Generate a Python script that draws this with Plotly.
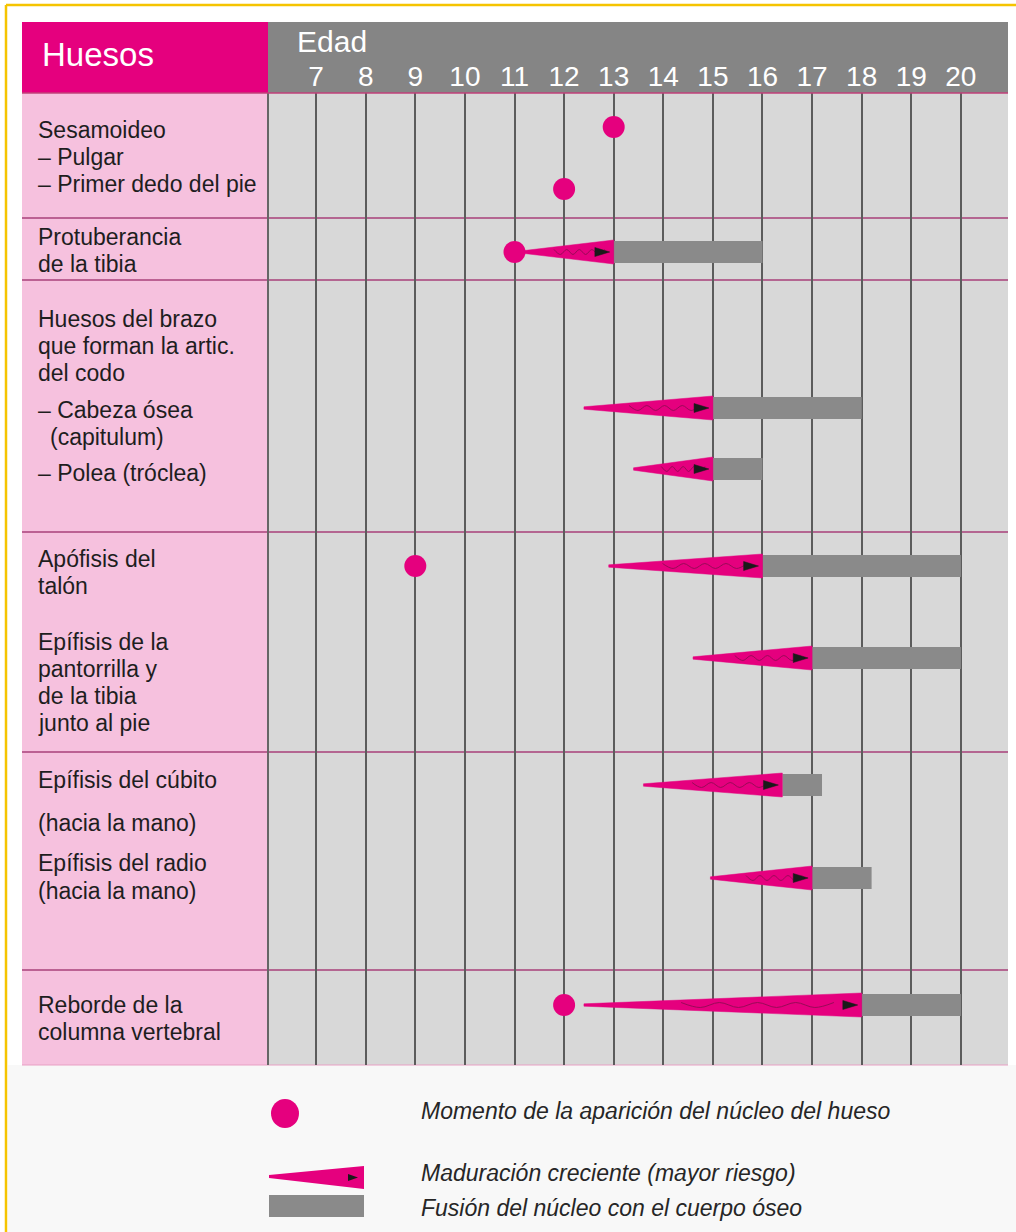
import plotly.graph_objects as go

# ---------------- data ----------------
ages = list(range(7, 21))
age_ticklabels = [str(a) for a in ages]

marks = ["Sesamoideo – Pulgar", "Sesamoideo – Primer dedo del pie",
         "Protuberancia de la tibia", "Cabeza ósea (capitulum)", "Polea (tróclea)",
         "Apófisis del talón", "Epífisis de la pantorrilla y de la tibia",
         "Epífisis del cúbito", "Epífisis del radio", "Reborde de la columna vertebral"]
appearance_age = [13, 12, 11, None, None, 9, None, None, None, 12]
maturation_start = [None, None, 11.15, 12.4, 13.4, 12.9, 14.6, 13.6, 14.95, 12.4]
fusion_start = [None, None, 13, 15, 15, 16, 17, 16.4, 17, 18]
fusion_end = [None, None, 16, 18, 16, 20, 20, 17.2, 18.2, 20]

label_lines = [
    "Sesamoideo", "– Pulgar", "– Primer dedo del pie",
    "Protuberancia", "de la tibia",
    "Huesos del brazo", "que forman la artic.", "del codo", "– Cabeza ósea", "(capitulum)", "– Polea (tróclea)",
    "Apófisis del", "talón", "Epífisis de la", "pantorrilla y", "de la tibia", "junto al pie",
    "Epífisis del cúbito", "(hacia la mano)", "Epífisis del radio", "(hacia la mano)",
    "Reborde de la", "columna vertebral",
]
legend_texts = ["Momento de la aparición del núcleo del hueso",
                "Maduración creciente (mayor riesgo)",
                "Fusión del núcleo con el cuerpo óseo"]

# ---------------- layout (pixel positions) ----------------
W, H = 1016, 1232
GX0, GX1, GY0, GY1 = 268, 1008, 93, 1065
mark_y = [127, 189, 252, 408, 469, 566, 658, 785, 878, 1005]
LX, LXI = 36, 48
label_pos = [(LX, 130), (LX, 157), (LX, 184),
             (LX, 237), (LX, 264),
             (LX, 319), (LX, 346), (LX, 373), (LX, 410), (LXI, 437), (LX, 473),
             (LX, 559), (LX, 586), (LX, 642), (LX, 669), (LX, 696), (LX, 723),
             (LX, 780), (LX, 823), (LX, 863), (LX, 891),
             (LX, 1005), (LX, 1032)]
row_sep = [218, 280, 532, 752, 970]

MAG = "#e5007e"
GRAY_BAR = "#8a8a8a"
PINK = "#f6c1de"
HEAD_GRAY = "#858585"
GRID_BG = "#d8d8d8"
SEP = "#a8407a"


def px(x):
    return (x - GX0) / (GX1 - GX0)


def py(y):
    return (GY1 - y) / (GY1 - GY0)


fig = go.Figure()

# fusion bars (gray)
bx, bb, by = [], [], []
for fs, fe, y in zip(fusion_start, fusion_end, mark_y):
    if fs is not None:
        bx.append(fe - fs)
        bb.append(fs)
        by.append(y)
fig.add_trace(go.Bar(x=bx, base=bb, y=by, orientation="h", width=22,
                     marker=dict(color=GRAY_BAR, line=dict(width=0)),
                     showlegend=False, hoverinfo="skip"))

# maturation wedges
for ms, fs, y in zip(maturation_start, fusion_start, mark_y):
    if ms is None:
        continue
    fig.add_trace(go.Scatter(x=[ms, fs, fs, ms, ms], y=[y - 1.2, y - 12, y + 12, y + 1.2, y - 1.2],
                             mode="lines", fill="toself", fillcolor=MAG,
                             line=dict(color=MAG, width=0.5), showlegend=False, hoverinfo="skip"))
    # decorative squiggle inside the wedge
    n = 9
    L = fs - ms
    sx = [ms + L * (0.35 + 0.55 * i / (n - 1)) for i in range(n)]
    sy = [y + (2.5 if i % 2 else -2.5) for i in range(n)]
    fig.add_trace(go.Scatter(x=sx, y=sy, mode="lines", line=dict(color="#7a1048", width=1, shape="spline"),
                             opacity=0.7, showlegend=False, hoverinfo="skip"))
    # small black arrowhead inside the wedge
    fig.add_trace(go.Scatter(x=[fs - 0.38, fs - 0.08, fs - 0.38, fs - 0.38],
                             y=[y - 4.5, y, y + 4.5, y - 4.5],
                             mode="lines", fill="toself", fillcolor="#1a1a1a",
                             line=dict(color="#1a1a1a", width=0.5), showlegend=False, hoverinfo="skip"))

# appearance dots
dx = [a for a in appearance_age if a is not None]
dy = [y for a, y in zip(appearance_age, mark_y) if a is not None]
fig.add_trace(go.Scatter(x=dx, y=dy, mode="markers",
                         marker=dict(size=22, color=MAG, line=dict(width=0)),
                         showlegend=False, hoverinfo="skip", cliponaxis=False))

shapes = []
# lower light area
shapes.append(dict(type="rect", xref="paper", yref="paper", x0=px(8), x1=px(W), y0=py(GY1), y1=py(H),
                   fillcolor="#f8f8f8", line=dict(width=0), layer="below"))
# yellow frame
shapes.append(dict(type="line", xref="paper", yref="paper", x0=px(6), x1=px(W), y0=py(5), y1=py(5),
                   line=dict(color="#f5c400", width=2.5), layer="below"))
shapes.append(dict(type="line", xref="paper", yref="paper", x0=px(6), x1=px(6), y0=py(5), y1=py(H),
                   line=dict(color="#f5c400", width=2.5), layer="below"))
# pink label column
shapes.append(dict(type="rect", xref="paper", yref="paper", x0=px(22), x1=px(GX0), y0=py(GY0), y1=py(GY1),
                   fillcolor=PINK, line=dict(width=0), layer="below"))
# header
shapes.append(dict(type="rect", xref="paper", yref="paper", x0=px(22), x1=px(GX0), y0=py(22), y1=py(GY0),
                   fillcolor=MAG, line=dict(width=0), layer="below"))
shapes.append(dict(type="rect", xref="paper", yref="paper", x0=px(GX0), x1=px(GX1), y0=py(22), y1=py(GY0),
                   fillcolor=HEAD_GRAY, line=dict(width=0), layer="below"))
# row separators
for ry in row_sep:
    shapes.append(dict(type="line", xref="paper", yref="paper", x0=px(22), x1=px(GX1), y0=py(ry), y1=py(ry),
                       line=dict(color=SEP, width=1.6), layer="below"))
shapes.append(dict(type="line", xref="paper", yref="paper", x0=px(22), x1=px(GX1), y0=py(GY0), y1=py(GY0),
                   line=dict(color="#c0407a", width=1.5), layer="above"))
shapes.append(dict(type="line", xref="paper", yref="paper", x0=px(22), x1=px(GX1), y0=py(GY1), y1=py(GY1),
                   line=dict(color="#e8a0c4", width=1.2), layer="below"))
# left border of grid
shapes.append(dict(type="line", xref="paper", yref="paper", x0=px(GX0), x1=px(GX0), y0=py(GY0), y1=py(GY1),
                   line=dict(color="#666666", width=2), layer="below"))

# legend symbols
shapes.append(dict(type="circle", xref="paper", yref="paper", x0=px(271), x1=px(299), y0=py(1099), y1=py(1128),
                   fillcolor=MAG, line=dict(width=0)))
shapes.append(dict(type="path", xref="paper", yref="paper",
                   path="M {a},{b} L {c},{d} L {c},{e} L {a},{f} Z".format(
                       a=px(269), b=py(1175), c=px(364), d=py(1166), e=py(1189), f=py(1178)),
                   fillcolor=MAG, line=dict(width=0)))
shapes.append(dict(type="path", xref="paper", yref="paper",
                   path="M {a},{b} L {c},{d} L {a},{e} Z".format(
                       a=px(348), b=py(1174), c=px(358), d=py(1177.5), e=py(1181)),
                   fillcolor="#1a1a1a", line=dict(width=0)))
shapes.append(dict(type="rect", xref="paper", yref="paper", x0=px(269), x1=px(364), y0=py(1195), y1=py(1217),
                   fillcolor=GRAY_BAR, line=dict(width=0)))

annotations = []
FONT = "Liberation Sans, Arial, Helvetica, sans-serif"
annotations.append(dict(text="Huesos", xref="paper", yref="paper", x=px(40), y=py(55), xanchor="left",
                        yanchor="middle", showarrow=False, font=dict(family=FONT, size=33, color="white")))
annotations.append(dict(text="Edad", xref="paper", yref="paper", x=px(295), y=py(42), xanchor="left",
                        yanchor="middle", showarrow=False, font=dict(family=FONT, size=30, color="white")))
for txt, (lx, ly) in zip(label_lines, label_pos):
    annotations.append(dict(text=txt, xref="paper", yref="paper", x=px(lx), y=py(ly), xanchor="left",
                            yanchor="middle", showarrow=False, font=dict(family=FONT, size=23, color="#1e1e1e")))
for txt, ly in zip(legend_texts, [1111, 1173, 1208]):
    annotations.append(dict(text="<i>" + txt + "</i>", xref="paper", yref="paper", x=px(419), y=py(ly),
                            xanchor="left", yanchor="middle", showarrow=False,
                            font=dict(family=FONT, size=23, color="#262626")))

fig.update_layout(
    width=W, height=H,
    margin=dict(l=GX0, r=W - GX1, t=GY0, b=H - GY1, pad=0),
    paper_bgcolor="white", plot_bgcolor=GRID_BG,
    barmode="overlay", showlegend=False,
    shapes=shapes, annotations=annotations,
    xaxis=dict(range=[6.03, 20.95], side="top", tickmode="array", tickvals=ages, ticktext=age_ticklabels,
               showgrid=True, gridcolor="#5c5c5c", gridwidth=1.6, zeroline=False, showline=False,
               ticks="", tickfont=dict(family=FONT, size=28, color="white"), ticklabelstandoff=0,
               fixedrange=True),
    yaxis=dict(range=[GY1, GY0], showgrid=False, zeroline=False, showticklabels=False, ticks="",
               showline=False, fixedrange=True),
)

fig.write_html("out.html", config={"displayModeBar": False},
               post_script="document.body.style.margin='0';document.body.style.overflow='hidden';")
